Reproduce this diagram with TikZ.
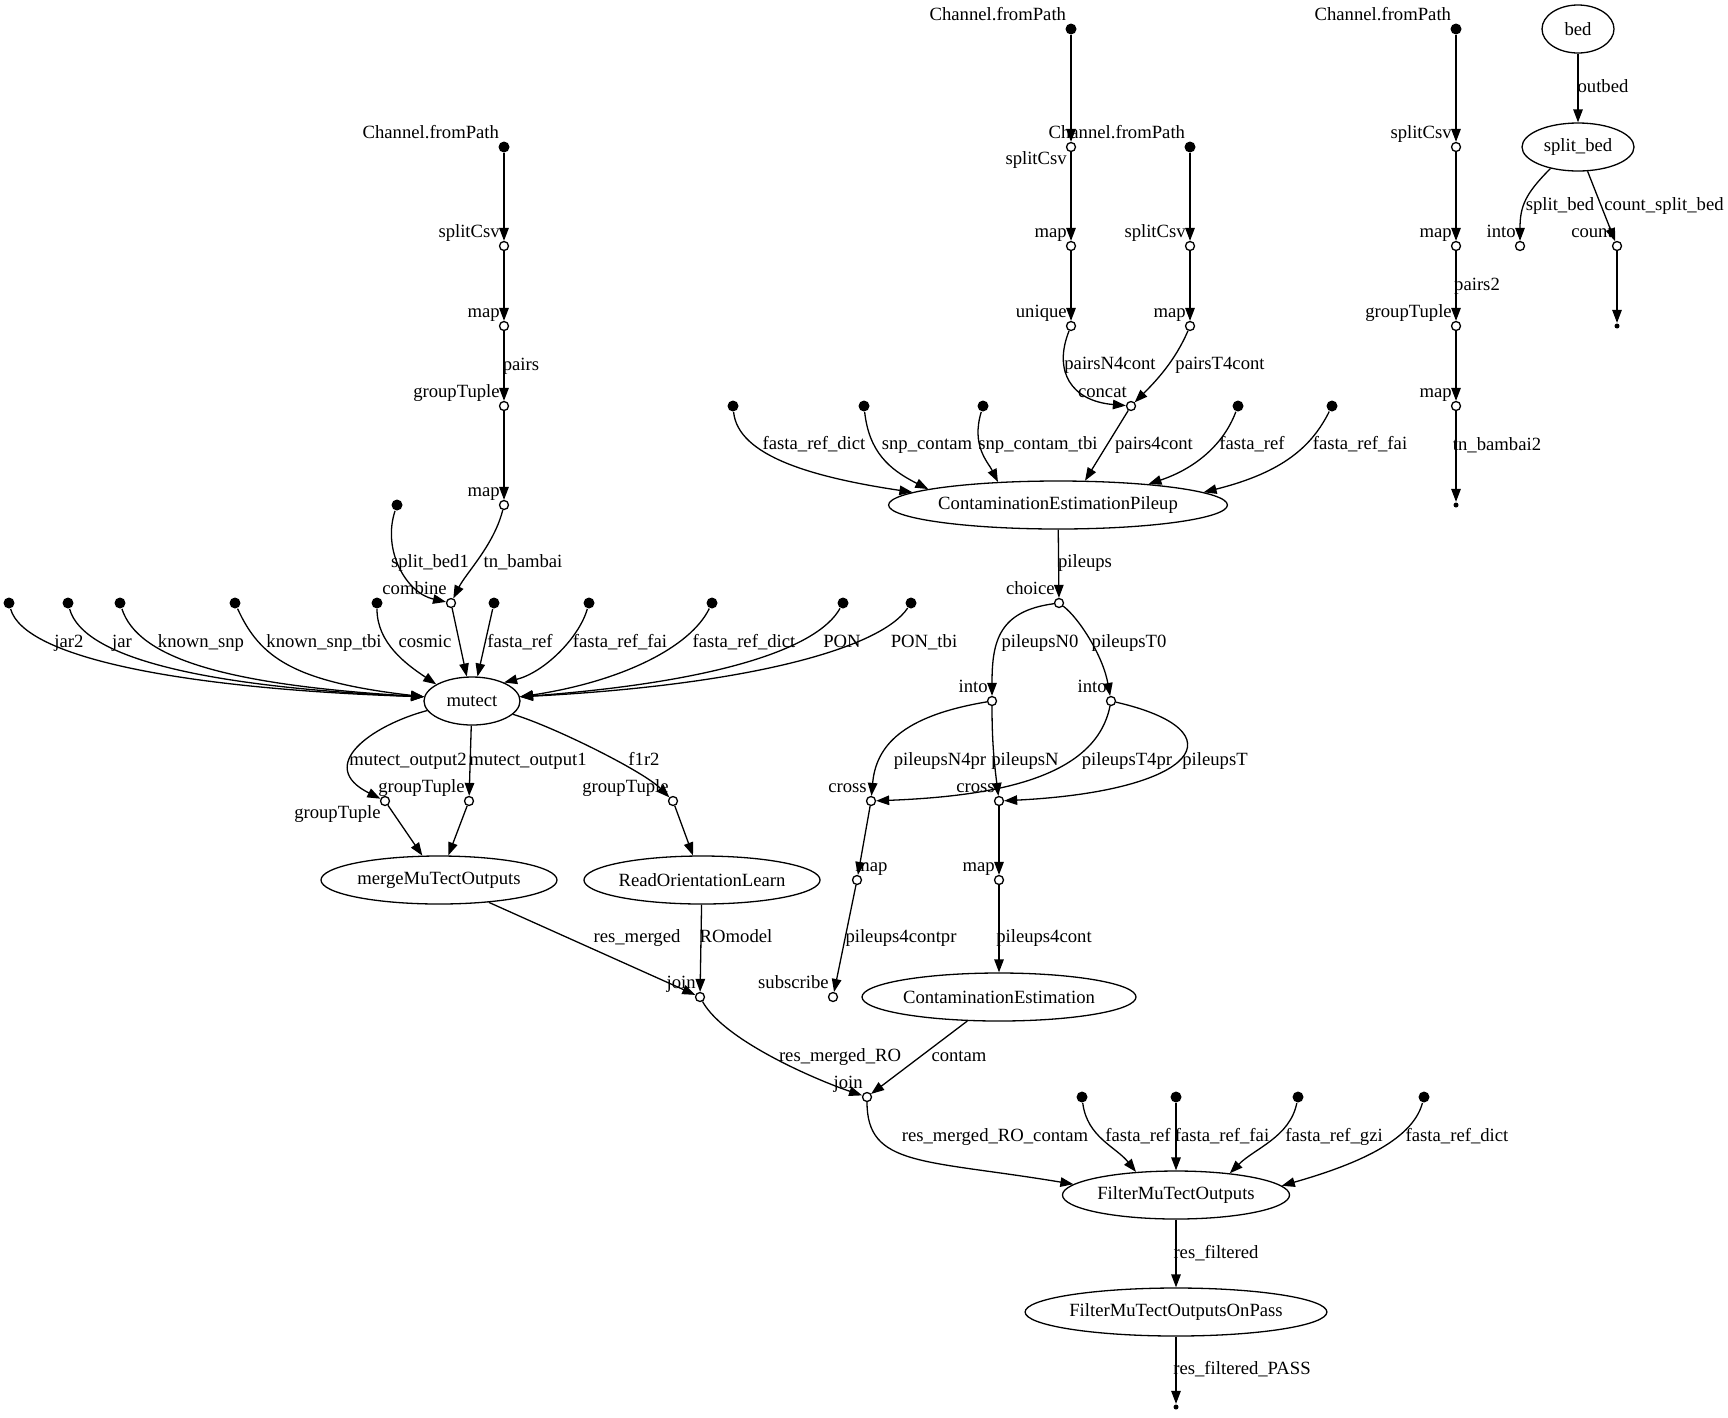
\documentclass[tikz,border=0pt]{standalone}
\usepackage{fontspec}
\setmainfont{Liberation Serif}
\usetikzlibrary{arrows.meta,shapes.geometric}
\tikzset{
  src/.style={circle, fill, inner sep=0pt, minimum size=11pt},
  op/.style={circle, draw, fill=white, inner sep=0pt, minimum size=9pt},
  sink/.style={circle, fill, inner sep=0pt, minimum size=5pt},
  proc/.style={ellipse, draw, inner sep=0pt, minimum height=48pt, minimum width=#1},
  lbl/.style={inner sep=0pt, text height=13pt, text depth=4pt},
  flow/.style={->}
}
\begin{document}
\begin{tikzpicture}[x=1pt, y=-1pt, line width=1.3pt, >={Triangle[length=13pt,width=9.5pt]}, font=\fontsize{18.67pt}{22pt}\selectfont]
 \useasboundingbox (0,0) rectangle (1728,1417);
 % left branch
 \node[src, label={[lbl]north west:Channel.fromPath}] (src_a) at (504,147) {};
 \node[op, label={[lbl]north west:splitCsv}] (split_a) at (504,246) {};
 \node[op, label={[lbl]north west:map}] (map_a) at (504,326) {};
 \node[op, label={[lbl]north west:groupTuple}] (group_a) at (504,406) {};
 \node[op, label={[lbl]north west:map}] (map_b) at (504,505) {};
 \node[src] (src_bed1) at (397,505) {};
 \node[op, label={[lbl]north west:combine}] (comb) at (451,603) {};
 \node[src] (in_jar2) at (9,603) {};
 \node[src] (in_jar) at (68,603) {};
 \node[src] (in_ksnp) at (120,603) {};
 \node[src] (in_ksnptbi) at (235,603) {};
 \node[src] (in_cosmic) at (377,603) {};
 \node[src] (in_fref) at (494,603) {};
 \node[src] (in_ffai) at (589,603) {};
 \node[src] (in_fdict) at (712,603) {};
 \node[src] (in_pon) at (843,603) {};
 \node[src] (in_pontbi) at (911,603) {};
 \node[proc=96pt] (mutect) at (472,701) {mutect};
 \node[op, label={[lbl]south west:groupTuple}] (gt_l) at (385,801) {};
 \node[op, label={[lbl]north west:groupTuple}] (gt_m) at (469,801) {};
 \node[op, label={[lbl]north west:groupTuple}] (gt_r) at (673,801) {};
 \node[proc=236pt] (merge) at (439,880) {mergeMuTectOutputs};
 \node[proc=236pt] (rol) at (702,880) {ReadOrientationLearn};
 \node[op, label={[lbl]north west:join}] (join_a) at (700,997) {};
 \node[op, label={[lbl]north west:join}] (join_b) at (867,1097) {};
 \node[src] (ff_ref) at (1082,1097) {};
 \node[src] (ff_fai) at (1176,1097) {};
 \node[src] (ff_gzi) at (1298,1097) {};
 \node[src] (ff_dict) at (1424,1097) {};
 \node[proc=227pt] (filter) at (1176,1195) {FilterMuTectOutputs};
 \node[proc=300pt] (onpass) at (1176,1312) {FilterMuTectOutputsOnPass};
 \node[sink] (sink_a) at (1176,1407) {};
 % middle branch
 \node[src, label={[lbl]north west:Channel.fromPath}] (src_b) at (1071,29) {};
 \node[op, label={[lbl]south west:splitCsv}] (split_b) at (1071,147) {};
 \node[src, label={[lbl]north west:Channel.fromPath}] (src_c) at (1190,147) {};
 \node[op, label={[lbl]north west:map}] (map_c) at (1071,246) {};
 \node[op, label={[lbl]north west:splitCsv}] (split_c) at (1190,246) {};
 \node[op, label={[lbl]north west:unique}] (uniq) at (1071,326) {};
 \node[op, label={[lbl]north west:map}] (map_d) at (1190,326) {};
 \node[op, label={[lbl]north west:concat}] (concat) at (1131,406) {};
 \node[src] (pu_dict) at (733,406) {};
 \node[src] (pu_snp) at (864,406) {};
 \node[src] (pu_snptbi) at (983,406) {};
 \node[src] (pu_ref) at (1238,406) {};
 \node[src] (pu_fai) at (1332,406) {};
 \node[proc=330pt] (pileup) at (1058,505) {ContaminationEstimationPileup};
 \node[op, label={[lbl]north west:choice}] (choice) at (1059,603) {};
 \node[op, label={[lbl]north west:into}] (into_n) at (992,701) {};
 \node[op, label={[lbl]north west:into}] (into_t) at (1111,701) {};
 \node[op, label={[lbl]north west:cross}] (cross_n) at (871,801) {};
 \node[op, label={[lbl]north west:cross}] (cross_t) at (999,801) {};
 \node[op, label={[lbl,xshift=-6pt]north east:map}] (map_n) at (857,880) {};
 \node[op, label={[lbl]north west:map}] (map_t) at (999,880) {};
 \node[op, label={[lbl]north west:subscribe}] (subs) at (833,997) {};
 \node[proc=274pt] (cont) at (999,997) {ContaminationEstimation};
 % right branch
 \node[src, label={[lbl]north west:Channel.fromPath}] (src_d) at (1456,29) {};
 \node[op, label={[lbl]north west:splitCsv}] (split_d) at (1456,147) {};
 \node[op, label={[lbl]north west:map}] (map_e) at (1456,246) {};
 \node[op, label={[lbl]north west:groupTuple}] (group_d) at (1456,326) {};
 \node[op, label={[lbl]north west:map}] (map_f) at (1456,406) {};
 \node[sink] (sink_b) at (1456,505) {};
 \node[proc=72pt] (bed) at (1578,29) {bed};
 \node[proc=112pt] (splitbed) at (1578,147) {split\_bed};
 \node[op, label={[lbl]north west:into}] (into_b) at (1520,246) {};
 \node[op, label={[lbl]north west:count}] (count) at (1617,246) {};
 \node[sink] (sink_c) at (1617,326) {};

 % edges, left
 \draw[flow] (src_a) -- (split_a);
 \draw[flow] (split_a) -- (map_a);
 \draw[flow] (map_a) -- (group_a);
 \draw[flow] (group_a) -- (map_b);
 \draw[flow] (src_bed1) .. controls +(-15,45) and +(-45,-10) .. (comb);
 \draw[flow] (map_b) .. controls +(-10,40) and +(15,-30) .. (comb);
 \draw[flow] (comb) -- (mutect);
 \draw[flow] (in_jar2) .. controls +(15,55) and +(-240,-8) .. (mutect.175);
 \draw[flow] (in_jar) .. controls +(15,55) and +(-220,-10) .. (mutect.175);
 \draw[flow] (in_ksnp) .. controls +(18,55) and +(-200,-12) .. (mutect.175);
 \draw[flow] (in_ksnptbi) .. controls +(25,55) and +(-130,-15) .. (mutect.175);
 \draw[flow] (in_cosmic) .. controls +(0,40) and +(-30,-20) .. (mutect.155);
 \draw[flow] (in_fref) -- (mutect);
 \draw[flow] (in_ffai) .. controls +(-10,35) and +(40,-10) .. (mutect.30);
 \draw[flow] (in_fdict) .. controls +(-22,45) and +(100,-15) .. (mutect.5);
 \draw[flow] (in_pon) .. controls +(-25,45) and +(200,-15) .. (mutect.5);
 \draw[flow] (in_pontbi) .. controls +(-30,45) and +(230,-12) .. (mutect.5);
 \draw[flow] (mutect.192) .. controls +(-56,15) and +(-70,-35) .. (gt_l);
 \draw[flow] (mutect) -- (gt_m);
 \draw[flow] (mutect.-18) .. controls +(40,12) and +(-30,-30) .. (gt_r);
 \draw[flow] (gt_l) -- (merge);
 \draw[flow] (gt_m) -- (merge);
 \draw[flow] (gt_r) -- (rol);
 \draw[flow] (merge) -- (join_a);
 \draw[flow] (rol) -- (join_a);
 \draw[flow] (join_a) .. controls +(25,45) and +(-45,-15) .. (join_b);
 \draw[flow] (cont) -- (join_b);
 \draw[flow] (join_b) .. controls +(0,70) and +(-150,-25) .. (filter.174);
 \draw[flow] (ff_ref) .. controls +(5,40) and +(-20,-25) .. (filter.150);
 \draw[flow] (ff_fai) -- (filter);
 \draw[flow] (ff_gzi) .. controls +(-8,40) and +(25,-25) .. (filter.22);
 \draw[flow] (ff_dict) .. controls +(-12,45) and +(70,-20) .. (filter.5);
 \draw[flow] (filter) -- (onpass);
 \draw[flow] (onpass) -- (sink_a);
 % edges, middle
 \draw[flow] (src_b) -- (split_b);
 \draw[flow] (split_b) -- (map_c);
 \draw[flow] (map_c) -- (uniq);
 \draw[flow] (src_c) -- (split_c);
 \draw[flow] (split_c) -- (map_d);
 \draw[flow] (uniq) .. controls +(-18,45) and +(-60,-5) .. (concat);
 \draw[flow] (map_d) .. controls +(-15,35) and +(25,-25) .. (concat);
 \draw[flow] (concat) -- (pileup.42);
 \draw[flow] (pu_dict) .. controls +(5,50) and +(-100,-15) .. (pileup.175);
 \draw[flow] (pu_snp) .. controls +(5,45) and +(-40,-20) .. (pileup.173);
 \draw[flow] (pu_snptbi) .. controls +(-12,40) and +(-10,-20) .. (pileup.159);
 \draw[flow] (pu_ref) .. controls +(-15,40) and +(45,-15) .. (pileup.13);
 \draw[flow] (pu_fai) .. controls +(-20,40) and +(80,-20) .. (pileup.5);
 \draw[flow] (pileup) -- (choice);
 \draw[flow] (choice) .. controls +(-60,8) and +(0,-60) .. (into_n);
 \draw[flow] (choice) .. controls +(20,15) and +(-8,-45) .. (into_t);
 \draw[flow] (into_n) .. controls +(-90,15) and +(5,-55) .. (cross_n);
 \draw[flow] (into_n) .. controls +(0,40) and +(-5,-40) .. (cross_t);
 \draw[flow] (into_t) .. controls +(-15,75) and +(130,-5) .. (cross_n);
 \draw[flow] (into_t) .. controls +(130,30) and +(200,-10) .. (cross_t);
 \draw[flow] (cross_n) -- (map_n);
 \draw[flow] (cross_t) -- (map_t);
 \draw[flow] (map_n) -- (subs);
 \draw[flow] (map_t) -- (cont);
 % edges, right
 \draw[flow] (src_d) -- (split_d);
 \draw[flow] (split_d) -- (map_e);
 \draw[flow] (map_e) -- (group_d);
 \draw[flow] (group_d) -- (map_f);
 \draw[flow] (map_f) -- (sink_b);
 \draw[flow] (bed) -- (splitbed);
 \draw[flow] (splitbed.218) .. controls +(-25,25) and +(0,-40) .. (into_b);
 \draw[flow] (splitbed) -- (count);
 \draw[flow] (count) -- (sink_c);

 % edge labels
 \node[lbl] (l_pairs) at (521,366) {pairs};
 \node[lbl] (l_bed1) at (430,563) {split\_bed1};
 \node[lbl] (l_tnb) at (523,563) {tn\_bambai};
 \node[lbl] (l_jar2) at (69,643) {jar2};
 \node[lbl] (l_jar) at (122,643) {jar};
 \node[lbl] (l_ksnp) at (201,643) {known\_snp};
 \node[lbl] (l_ksnptbi) at (324,643) {known\_snp\_tbi};
 \node[lbl] (l_cosmic) at (425,643) {cosmic};
 \node[lbl] (l_fref) at (520,643) {fasta\_ref};
 \node[lbl] (l_ffai) at (620,643) {fasta\_ref\_fai};
 \node[lbl] (l_fdict) at (744,643) {fasta\_ref\_dict};
 \node[lbl] (l_pon) at (842,643) {PON};
 \node[lbl] (l_pontbi) at (924,643) {PON\_tbi};
 \node[lbl] (l_out2) at (408,761) {mutect\_output2};
 \node[lbl] (l_out1) at (528,761) {mutect\_output1};
 \node[lbl] (l_f1r2) at (644,761) {f1r2};
 \node[lbl] (l_resm) at (637,938) {res\_merged};
 \node[lbl] (l_romodel) at (736,938) {ROmodel};
 \node[lbl] (l_resmro) at (840,1057) {res\_merged\_RO};
 \node[lbl] (l_contam) at (959,1057) {contam};
 \node[lbl] (l_resmroc) at (995,1137) {res\_merged\_RO\_contam};
 \node[lbl] (l_ffref) at (1138,1137) {fasta\_ref};
 \node[lbl] (l_fffai) at (1222,1137) {fasta\_ref\_fai};
 \node[lbl] (l_ffgzi) at (1334,1137) {fasta\_ref\_gzi};
 \node[lbl] (l_ffdict) at (1457,1137) {fasta\_ref\_dict};
 \node[lbl] (l_resf) at (1216,1254) {res\_filtered};
 \node[lbl] (l_resfp) at (1242,1370) {res\_filtered\_PASS};
 \node[lbl] (l_pn4) at (1110,365) {pairsN4cont};
 \node[lbl] (l_pt4) at (1220,365) {pairsT4cont};
 \node[lbl] (l_pudict) at (814,445) {fasta\_ref\_dict};
 \node[lbl] (l_pusnp) at (927,445) {snp\_contam};
 \node[lbl] (l_pusnptbi) at (1038,445) {snp\_contam\_tbi};
 \node[lbl] (l_p4c) at (1154,445) {pairs4cont};
 \node[lbl] (l_puref) at (1252,445) {fasta\_ref};
 \node[lbl] (l_pufai) at (1360,445) {fasta\_ref\_fai};
 \node[lbl] (l_pileups) at (1085,563) {pileups};
 \node[lbl] (l_pn0) at (1040,643) {pileupsN0};
 \node[lbl] (l_pt0) at (1129,643) {pileupsT0};
 \node[lbl] (l_pn4pr) at (940,761) {pileupsN4pr};
 \node[lbl] (l_pn) at (1025,761) {pileupsN};
 \node[lbl] (l_pt4pr) at (1127,761) {pileupsT4pr};
 \node[lbl] (l_pt) at (1215,761) {pileupsT};
 \node[lbl] (l_p4cpr) at (901,938) {pileups4contpr};
 \node[lbl] (l_p4cont) at (1044,938) {pileups4cont};
 \node[lbl] (l_pairs2) at (1477,286) {pairs2};
 \node[lbl] (l_tnb2) at (1497,446) {tn\_bambai2};
 \node[lbl] (l_outbed) at (1603,88) {outbed};
 \node[lbl] (l_splitbed) at (1560,206) {split\_bed};
 \node[lbl] (l_csb) at (1664,206) {count\_split\_bed};
\end{tikzpicture}
\end{document}
